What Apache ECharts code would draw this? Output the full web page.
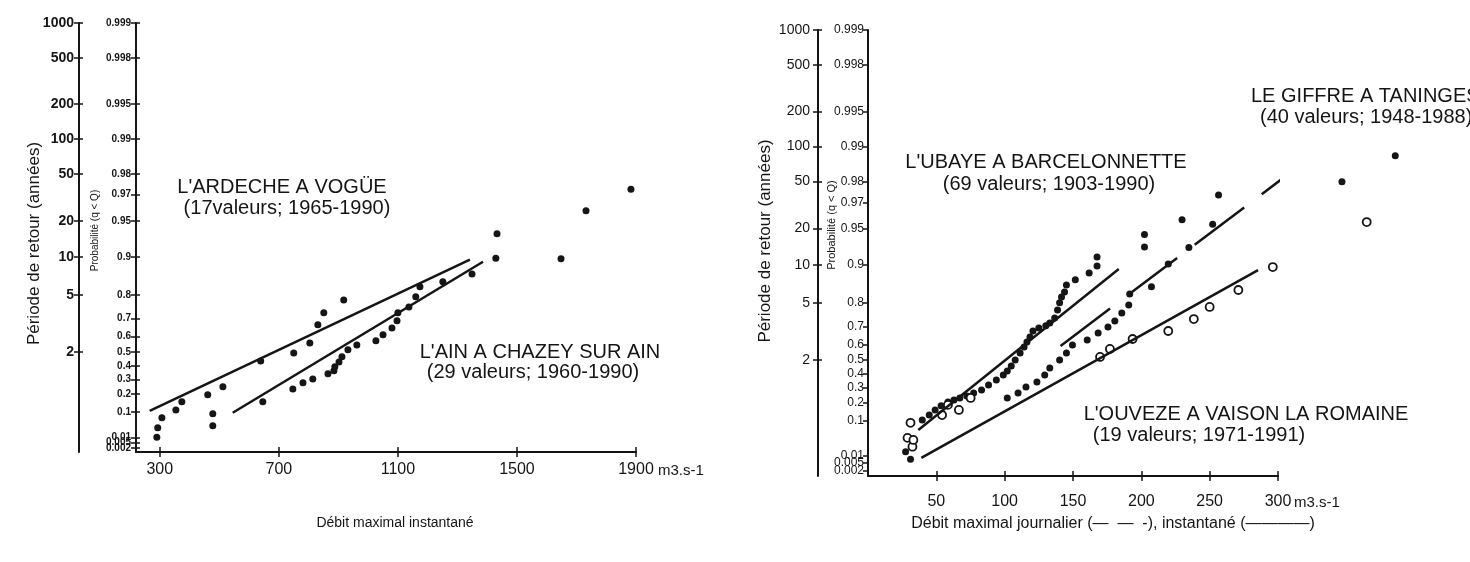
<!DOCTYPE html>
<html>
<head>
<meta charset="utf-8">
<script src="https://cdn.jsdelivr.net/npm/echarts@6/dist/echarts.min.js"></script>
<style>
  html, body { margin: 0; padding: 0; background: #fff; }
  #chart { width: 1470px; height: 562px; }
</style>
</head>
<body>
<div id="chart"></div>
<script>
// graduations du papier de Gumbel
const periodTicks = [1000, 500, 200, 100, 50, 20, 10, 5, 2]
const probTicks = [0.999, 0.998, 0.995, 0.99, 0.98, 0.97, 0.95, 0.9, 0.8, 0.7, 0.6, 0.5, 0.4, 0.3, 0.2, 0.1, 0.01, 0.005, 0.002, 0.001]
const leftFlowTicks = [300, 700, 1100, 1500, 1900]
const rightFlowTicks = [50, 100, 150, 200, 250, 300]

// [débit m3/s, probabilité q < Q]
const ardeche = [[290, 0.010], [293, 0.029], [307, 0.068], [354, 0.111], [374, 0.154], [461, 0.196], [512, 0.249],
  [639, 0.436], [750, 0.493], [804, 0.560], [831, 0.667], [851, 0.727], [918, 0.781], [1648, 0.897], [1883, 0.973]]
const ain = [[478, 0.035], [478, 0.090], [646, 0.154], [747, 0.235], [781, 0.277], [814, 0.305], [865, 0.342],
  [885, 0.364], [888, 0.393], [902, 0.429], [912, 0.465], [932, 0.514], [962, 0.547], [1026, 0.573], [1050, 0.610],
  [1080, 0.650], [1097, 0.688], [1100, 0.727], [1137, 0.753], [1160, 0.793], [1174, 0.827], [1251, 0.842],
  [1349, 0.863], [1429, 0.898], [1433, 0.936], [1732, 0.959]]
const ardecheFit = [[266, 0.106], [1342, 0.895]]
const ainFit = [[545, 0.097], [1386, 0.891]]

const ubaye = [[27.5, 0.014], [31.1, 0.007], [39.7, 0.103], [44.8, 0.127], [49.1, 0.155], [53.5, 0.179], [58.5, 0.204],
  [62.9, 0.216], [67.2, 0.230], [72.3, 0.243], [77.3, 0.264], [83.1, 0.285], [88.2, 0.321], [93.9, 0.357],
  [99.0, 0.394], [101.9, 0.423], [104.8, 0.458], [107.7, 0.500], [111.3, 0.547], [114.2, 0.586], [116.3, 0.616],
  [118.5, 0.645], [120.7, 0.677], [125.0, 0.692], [130.1, 0.703], [133.0, 0.717], [136.6, 0.740], [138.7, 0.773],
  [140.2, 0.800], [141.6, 0.820], [143.8, 0.835], [145.2, 0.855], [151.7, 0.868], [161.8, 0.884], [167.6, 0.898],
  [167.6, 0.914], [202.3, 0.929], [202.3, 0.944], [229.8, 0.958], [256.5, 0.974]]
const giffre = [[101.9, 0.230], [109.8, 0.264], [115.6, 0.306], [123.6, 0.343], [129.3, 0.394], [133.0, 0.444],
  [140.2, 0.500], [145.2, 0.547], [149.6, 0.598], [160.4, 0.627], [168.4, 0.666], [175.6, 0.698], [180.6, 0.726],
  [185.7, 0.761], [190.8, 0.792], [191.5, 0.829], [207.4, 0.850], [219.7, 0.902], [234.8, 0.928], [252.2, 0.954],
  [346.8, 0.980], [385.8, 0.988]]
const ouveze = [[28.9, 0.039], [31.1, 0.090], [32.5, 0.021], [33.2, 0.034], [54.2, 0.127], [58.5, 0.185],
  [66.5, 0.155], [75.1, 0.230], [169.8, 0.521], [177.0, 0.573], [193.6, 0.633], [219.7, 0.677], [238.4, 0.735],
  [250.0, 0.785], [271.0, 0.841], [296.2, 0.896], [364.9, 0.956]]
const ubayeFit = [[36.8, 0.0625], [183.5, 0.892]]
const giffreFit = [[140.9, 0.592], [328, 0.9886]]
const ouvezeFit = [[39, 0.008], [285.4, 0.890]]

const INK = '#151515'
const FONT = '"Liberation Sans", Arial, sans-serif'

// variable réduite de Gumbel ; sous 0.1 le papier de gauche est tassé
const gumbel = p => -Math.log(-Math.log(p))
const scaleY = (p, k) => {
  const u = gumbel(p), u1 = gumbel(0.1)
  return u >= u1 ? u : u1 + k * (u - u1)
}
const kLeft = 0.72
const kRight = 1

const lookup = (pos, ticks) => v => {
  const i = pos.findIndex(x => Math.abs(x - v) < 1e-6)
  return i < 0 ? '' : String(ticks[i])
}

function probAxis(gridIndex, k, offset, ticks, toP, opts) {
  const pos = ticks.map(t => scaleY(toP(t), k))
  const inside = !!opts.inside
  return {
    type: 'value', gridIndex, position: 'left', offset,
    min: scaleY(0.001, k), max: scaleY(0.999, k),
    splitLine: { show: false },
    axisLine: { show: !inside, onZero: false, lineStyle: { color: INK, width: 2 } },
    axisTick: { show: true, inside, length: opts.tick || 5, customValues: pos, lineStyle: { color: INK, width: 1.5 } },
    axisLabel: inside ? { show: false } : {
      customValues: pos, formatter: lookup(pos, ticks), color: INK, fontFamily: FONT,
      fontSize: opts.fontSize, fontWeight: opts.fontWeight || 'normal', margin: opts.margin || 5
    },
    name: inside ? '' : opts.name,
    nameLocation: 'middle', nameGap: opts.nameGap, nameMoveOverlap: false,
    nameTextStyle: { color: INK, fontFamily: FONT, fontSize: opts.nameSize, padding: opts.namePad || 0 }
  }
}

function flowAxis(gridIndex, min, max, ticks, opts) {
  const inside = !!opts.inside
  return {
    type: 'value', gridIndex, position: 'bottom', min, max,
    splitLine: { show: false },
    axisLine: { show: !inside, onZero: false, lineStyle: { color: INK, width: 2 } },
    axisTick: { show: true, inside, length: 5, customValues: ticks, lineStyle: { color: INK, width: 1.5 } },
    axisLabel: inside ? { show: false } : {
      customValues: ticks, formatter: v => String(v), color: INK, fontFamily: FONT, fontSize: 16, margin: opts.margin
    },
    name: inside ? '' : opts.name,
    nameLocation: 'middle', nameGap: opts.nameGap, nameMoveOverlap: false,
    nameTextStyle: { color: INK, fontFamily: FONT, fontSize: opts.nameSize || 14, padding: opts.namePad || 0 }
  }
}

const retP = t => 1 - 1 / t
const idP = p => p

const dots = (name, data, k, xi, yi, open) => ({
  name, type: 'scatter', xAxisIndex: xi, yAxisIndex: yi, clip: false,
  symbol: 'circle', symbolSize: open ? 8 : 7,
  itemStyle: open ? { color: '#fff', borderColor: INK, borderWidth: 1.8, opacity: 1 } : { color: INK, opacity: 1 },
  data: data.map(([q, p]) => [q, scaleY(p, k)])
})
const fit = (name, data, k, xi, yi, dashed) => ({
  name, type: 'line', xAxisIndex: xi, yAxisIndex: yi, clip: false,
  symbol: 'none', silent: true,
  lineStyle: { color: INK, width: 2.5, type: dashed ? [62, 22] : 'solid', cap: 'butt' },
  data: data.map(([q, p]) => [q, scaleY(p, k)])
})

const option = {
  animation: false,
  backgroundColor: '#fff',
  textStyle: { fontFamily: FONT, color: INK },
  grid: [
    { left: 136, top: 23, width: 500, height: 429, outerBoundsMode: 'none' },
    { left: 868, top: 30, width: 410, height: 446, outerBoundsMode: 'none' }
  ],
  xAxis: [
    flowAxis(0, 220, 1900, leftFlowTicks, { margin: 10, name: 'Débit maximal instantané', nameGap: 64, namePad: [0, 0, 0, 18] }),
    flowAxis(0, 220, 1900, leftFlowTicks, { inside: true }),
    flowAxis(1, 0, 300, rightFlowTicks, { margin: 18, name: 'Débit maximal journalier (—  —  -), instantané (————)', nameGap: 40, nameSize: 16, namePad: [0, 0, 0, 80] }),
    flowAxis(1, 0, 300, rightFlowTicks, { inside: true })
  ],
  yAxis: [
    probAxis(0, kLeft, 0, probTicks, idP, { fontSize: 10, fontWeight: 'bold', name: 'Probabilité (q < Q)', nameGap: 36, nameSize: 10, namePad: [0, 0, 0, 14] }),
    probAxis(0, kLeft, 0, probTicks, idP, { inside: true, tick: 4 }),
    probAxis(0, kLeft, 57, periodTicks, retP, { fontSize: 14, fontWeight: 'bold', name: 'Période de retour (années)', nameGap: 36, nameSize: 17, namePad: [0, 12, 0, 0] }),
    probAxis(0, kLeft, 57, periodTicks, retP, { inside: true, tick: 4 }),
    probAxis(1, kRight, 0, probTicks, idP, { fontSize: 12, margin: 4, name: 'Probabilité (q < Q)', nameGap: 31, nameSize: 11, namePad: [0, 0, 0, 56] }),
    probAxis(1, kRight, 50, periodTicks, retP, { fontSize: 14, margin: 8, name: 'Période de retour (années)', nameGap: 44, nameSize: 17, namePad: [0, 0, 0, 24] }),
    probAxis(1, kRight, 50, periodTicks, retP, { inside: true, tick: 4 })
  ],
  series: [
    fit("L'Ardèche à Vogüé", ardecheFit, kLeft, 0, 0),
    fit("L'Ain à Chazey sur Ain", ainFit, kLeft, 0, 0),
    dots("L'Ardèche à Vogüé", ardeche, kLeft, 0, 0),
    dots("L'Ain à Chazey sur Ain", ain, kLeft, 0, 0),
    fit("L'Ubaye à Barcelonnette", ubayeFit, kRight, 2, 4),
    fit('Le Giffre à Taninges', giffreFit, kRight, 2, 4, true),
    fit("L'Ouvèze à Vaison la Romaine", ouvezeFit, kRight, 2, 4),
    dots("L'Ubaye à Barcelonnette", ubaye, kRight, 2, 4),
    dots('Le Giffre à Taninges', giffre, kRight, 2, 4),
    dots("L'Ouvèze à Vaison la Romaine", ouveze, kRight, 2, 4, true)
  ]
}

const chart = echarts.init(document.getElementById('chart'))
chart.setOption(option)

// étiquettes des stations et unités
const txt = (text, x, y, size, align) => ({
  type: 'text', x, y, silent: true,
  style: { text, fill: INK, font: size + 'px ' + FONT, align: align || 'center', verticalAlign: 'middle' }
})
const unitLeft = chart.convertToPixel({ xAxisIndex: 0 }, 1900)
const unitRight = chart.convertToPixel({ xAxisIndex: 2 }, 300)
const baseLeft = chart.convertToPixel({ yAxisIndex: 0 }, scaleY(0.001, kLeft))
const baseRight = chart.convertToPixel({ yAxisIndex: 4 }, scaleY(0.001, kRight))
chart.setOption({
  graphic: [
    txt("L'ARDECHE A VOGÜE", 282, 187, 20),
    txt('(17valeurs; 1965-1990)', 287, 208, 20),
    txt("L'AIN A CHAZEY SUR AIN", 540, 352, 20),
    txt('(29 valeurs; 1960-1990)', 533, 372, 20),
    txt("L'UBAYE A BARCELONNETTE", 1046, 162, 20),
    txt('(69 valeurs; 1903-1990)', 1049, 184, 20),
    txt('LE GIFFRE A TANINGES', 1251, 96, 20, 'left'),
    txt('(40 valeurs; 1948-1988)', 1260, 117, 20, 'left'),
    txt("L'OUVEZE A VAISON LA ROMAINE", 1246, 414, 20),
    txt('(19 valeurs; 1971-1991)', 1199, 435, 20),
    txt('m3.s-1', unitLeft + 22, baseLeft + 19, 15, 'left'),
    txt('m3.s-1', unitRight + 16, baseRight + 27, 15, 'left')
  ]
})
</script>
</body>
</html>
